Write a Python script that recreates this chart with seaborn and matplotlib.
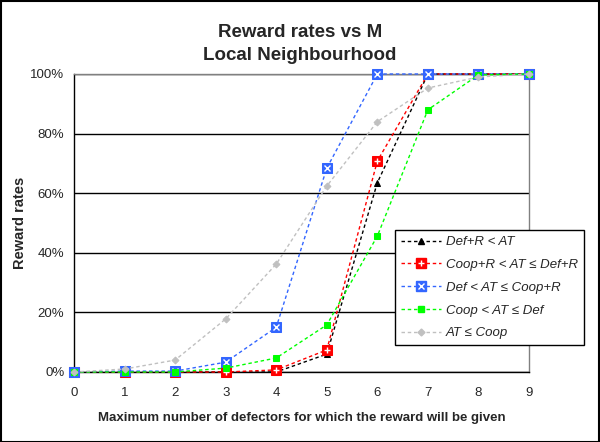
import matplotlib
matplotlib.use("Agg")
import matplotlib.pyplot as plt
from matplotlib.legend_handler import HandlerTuple
from matplotlib.lines import Line2D
import seaborn as sns
import pandas as pd

# data
m_values = [0, 1, 2, 3, 4, 5, 6, 7, 8, 9]
def_r_lt_at = [0, 0, 0, 0, 0, 6, 63.5, 100, 100, 100]
coop_r_lt_at = [0, 0, 0, 0, 0.7, 7.4, 70.8, 100, 100, 100]
def_lt_at = [0, 0.3, 0.3, 3.3, 15, 68.4, 100, 100, 100, 100]
coop_lt_at = [0, 0, 0, 1.3, 4.7, 15.8, 45.6, 88, 99.7, 100]
at_le_coop = [0, 1, 4, 17.8, 36.2, 62.4, 84, 95.3, 99, 100]

labels = ["Def+R < AT", "Coop+R < AT \u2264 Def+R", "Def < AT \u2264 Coop+R",
          "Coop < AT \u2264 Def", "AT \u2264 Coop"]

sns.set_style("white")
plt.rcParams['font.family'] = ['Liberation Sans', 'DejaVu Sans']

fig = plt.figure(figsize=(6, 4.42), dpi=100)
ax = fig.add_axes([74/600, 1-372/442, (529-74)/600, (372-74)/442])

# drawn in legend order, later series end up on top (like Excel)
series = [
    (def_r_lt_at, "#000000", "^", 4.5, None),
    (coop_r_lt_at, "#ff0000", "s", 6.5, "+"),
    (def_lt_at, "#3366ff", "s", 6.5, "x"),
    (coop_lt_at, "#00ff00", "s", 4, None),
    (at_le_coop, "#c0c0c0", "D", 3.5, None),
]
handles = []
for i, (vals, col, mk, ms, inner) in enumerate(series):
    df = pd.DataFrame({"m": m_values, "v": vals})
    sns.lineplot(data=df, x="m", y="v", ax=ax, color=col, linestyle=(0, (2.5, 2)),
                 linewidth=1, marker=mk, markersize=ms, markeredgecolor=col,
                 markerfacecolor=col, clip_on=False, zorder=3 + 2 * i)
    h = Line2D([], [], color=col, linestyle=(0, (2.5, 2)), linewidth=1, marker=mk,
               markersize=ms, markerfacecolor=col, markeredgecolor=col)
    if inner:
        ax.plot(m_values, vals, linestyle="", marker=inner, markersize=4,
                color="white", markeredgewidth=1, clip_on=False, zorder=4 + 2 * i)
        h2 = Line2D([], [], linestyle="", marker=inner, markersize=4,
                    color="white", markeredgewidth=1)
        h = (h, h2)
    handles.append(h)

ax.set_xlim(0, 9)
ax.set_ylim(0, 100)
ax.set_xticks(m_values)
ax.set_yticks([0, 20, 40, 60, 80, 100])
ax.set_yticklabels(["0%", "20%", "40%", "60%", "80%", "100%"])
ax.yaxis.grid(True, color="black", linewidth=1)
ax.set_axisbelow(True)
for s in ["left", "bottom"]:
    ax.spines[s].set_color("black")
    ax.spines[s].set_linewidth(1)
for s in ["top", "right"]:
    ax.spines[s].set_color("#808080")
    ax.spines[s].set_linewidth(1)
ax.tick_params(axis="both", direction="out", length=4, width=1, color="black",
               labelsize=9.5, pad=3)
ax.tick_params(axis="x", pad=7)

ax.set_xlabel("Maximum number of defectors for which the reward will be given",
              fontsize=9.5, fontweight="bold", labelpad=9)
ax.set_ylabel("Reward rates", fontsize=10.5, fontweight="bold", labelpad=2)
fig.suptitle("Reward rates vs M\nLocal Neighbourhood", fontsize=13.5, fontweight="bold",
             y=0.945, linespacing=1.4)

leg = fig.legend(handles, labels,
                 handler_map={tuple: HandlerTuple(ndivide=1)},
                 loc="upper left", bbox_to_anchor=(395/600, 1-230/442),
                 frameon=True, fancybox=False, framealpha=1, edgecolor="black",
                 prop={"style": "italic", "size": 9.5}, handlelength=3.0,
                 borderpad=0.45, labelspacing=0.8, handletextpad=0.4,
                 borderaxespad=0)
leg.get_frame().set_linewidth(1)

# outer border of the chart
fig.patches.append(plt.Rectangle((0.001, 0.001), 0.997, 0.997, transform=fig.transFigure,
                                 fill=False, edgecolor="black", linewidth=1.5))

fig.savefig("out.png", dpi=100)
